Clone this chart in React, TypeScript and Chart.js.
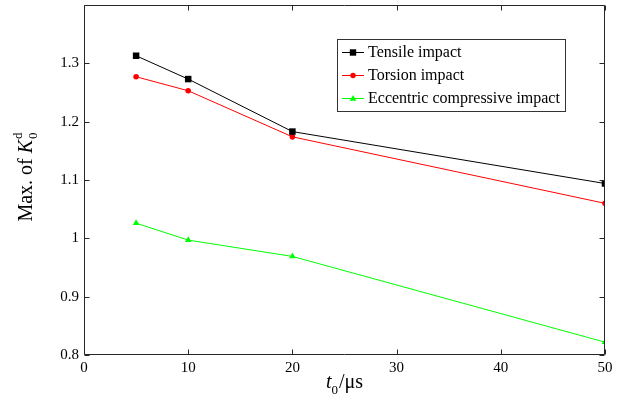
import React, { useEffect, useRef } from "react";
import { Chart, registerables } from "chart.js";

Chart.register(...registerables);

const times = [5, 10, 20, 50];
const tensile = [1.313, 1.273, 1.183, 1.094];
const torsion = [1.277, 1.253, 1.174, 1.06];
const eccentric = [1.026, 0.997, 0.969, 0.822];
const seriesNames = ["Tensile impact", "Torsion impact", "Eccentric compressive impact"];
const seriesColors = ["#000000", "#ff0000", "#00ff00"];
const seriesMarkers = ["rect", "circle", "triangle"];
const xTicks = [0, 10, 20, 30, 40, 50];
const yTickLabels = [0.8, 0.9, 1.0, 1.1, 1.2, 1.3];
const yTickMarks = [0.8, 0.9, 1.0, 1.1, 1.2, 1.3, 1.4];

const SERIF = "'Liberation Serif', 'Times New Roman', serif";

function drawMarker(ctx: CanvasRenderingContext2D, style: string, x: number, y: number, color: string) {
  ctx.save();
  ctx.fillStyle = color;
  ctx.beginPath();
  if (style === "rect") {
    ctx.rect(x - 3.2, y - 3.2, 6.4, 6.4);
  } else if (style === "circle") {
    ctx.arc(x, y, 2.7, 0, Math.PI * 2);
  } else {
    ctx.moveTo(x, y - 3.5);
    ctx.lineTo(x + 3.3, y + 2.2);
    ctx.lineTo(x - 3.3, y + 2.2);
    ctx.closePath();
  }
  ctx.fill();
  ctx.restore();
}

const framePlugin = {
  id: "framePlugin",
  afterDraw(chart: any) {
    const ctx: CanvasRenderingContext2D = chart.ctx;
    const { left, right, top, bottom } = chart.chartArea;
    const xs = chart.scales.x;
    const ys = chart.scales.y;
    const L = Math.round(left) + 0.5;
    const R = Math.round(right) - 0.5;
    const T = Math.round(top) + 0.5;
    const B = Math.round(bottom) - 0.5;
    ctx.save();
    ctx.strokeStyle = "#262626";
    ctx.lineWidth = 1;
    ctx.beginPath();
    ctx.rect(L, T, R - L, B - T);
    ctx.stroke();
    const tl = 5;
    ctx.beginPath();
    for (const v of xTicks) {
      const px = Math.round(xs.getPixelForValue(v)) + 0.5;
      ctx.moveTo(px, B);
      ctx.lineTo(px, B - tl);
      ctx.moveTo(px, T);
      ctx.lineTo(px, T + tl);
    }
    for (const v of yTickMarks) {
      const py = Math.round(ys.getPixelForValue(v)) + 0.5;
      ctx.moveTo(L, py);
      ctx.lineTo(L + tl, py);
      ctx.moveTo(R, py);
      ctx.lineTo(R - tl, py);
    }
    ctx.stroke();

    // Axis titles
    ctx.fillStyle = "#000";
    ctx.textBaseline = "alphabetic";
    ctx.textAlign = "left";
    const big = `20px ${SERIF}`;
    const bigI = `italic 20px ${SERIF}`;
    const small = `13px ${SERIF}`;

    // x title: t_0/μs
    ctx.font = bigI;
    const wt = ctx.measureText("t").width;
    ctx.font = small;
    const w0 = ctx.measureText("0").width;
    ctx.font = big;
    const wr = ctx.measureText("/μs").width;
    const total = wt + w0 + wr + 1;
    let cx = (left + right) / 2 - total / 2;
    const by = 388;
    ctx.font = bigI;
    ctx.fillText("t", cx, by);
    cx += wt;
    ctx.font = small;
    ctx.fillText("0", cx, by + 6);
    cx += w0 + 1;
    ctx.font = big;
    ctx.fillText("/μs", cx, by);

    // y title: Max. of K_0^d
    ctx.save();
    ctx.translate(32, (top + bottom) / 2 - 3);
    ctx.rotate(-Math.PI / 2);
    ctx.font = big;
    const wm = ctx.measureText("Max. of ").width;
    ctx.font = bigI;
    const wk = ctx.measureText("K").width;
    ctx.font = small;
    const ws = Math.max(ctx.measureText("0").width, ctx.measureText("d").width);
    const tot2 = wm + wk + ws + 1;
    let yx = -tot2 / 2;
    ctx.font = big;
    ctx.fillText("Max. of ", yx, 0);
    yx += wm;
    ctx.font = bigI;
    ctx.fillText("K", yx, 0);
    yx += wk + 1;
    ctx.font = small;
    ctx.fillText("0", yx, 5);
    ctx.fillText("d", yx, -10);
    ctx.restore();

    // Legend
    const bx = 337.5, byy = 39.5, bw = 228, bh = 72;
    ctx.fillStyle = "#ffffff";
    ctx.fillRect(bx, byy, bw, bh);
    ctx.strokeStyle = "#333333";
    ctx.strokeRect(bx, byy, bw, bh);
    ctx.font = `16px ${SERIF}`;
    ctx.textBaseline = "middle";
    for (let i = 0; i < seriesNames.length; i++) {
      const ry = 52 + i * 23;
      ctx.strokeStyle = seriesColors[i];
      ctx.beginPath();
      ctx.moveTo(342, ry + 0.5);
      ctx.lineTo(364, ry + 0.5);
      ctx.stroke();
      drawMarker(ctx, seriesMarkers[i], 353, ry + 0.5, seriesColors[i]);
      ctx.fillStyle = "#000";
      ctx.fillText(seriesNames[i], 368, ry + 1);
    }
    ctx.restore();
  },
};

export default function App() {
  const ref = useRef<HTMLCanvasElement | null>(null);
  useEffect(() => {
    if (!ref.current) return;
    const mk = (data: number[], i: number, r: number) => ({
      label: seriesNames[i],
      data: times.map((t, k) => ({ x: t, y: data[k] })),
      borderColor: seriesColors[i],
      backgroundColor: seriesColors[i],
      pointBackgroundColor: seriesColors[i],
      pointBorderColor: seriesColors[i],
      pointStyle: seriesMarkers[i] as any,
      pointRadius: r,
      pointBorderWidth: 0,
      borderWidth: 1,
      tension: 0,
      fill: false,
    });
    const chart = new Chart(ref.current, {
      type: "line",
      data: {
        datasets: [mk(tensile, 0, 4.6), mk(torsion, 1, 2.8), mk(eccentric, 2, 3.8)],
      },
      plugins: [framePlugin],
      options: {
        responsive: false,
        animation: false,
        devicePixelRatio: 1,
        layout: { padding: { left: 0, right: 17, top: 5, bottom: 0 } },
        plugins: { legend: { display: false }, tooltip: { enabled: false } },
        scales: {
          x: {
            type: "linear",
            min: 0,
            max: 50,
            afterBuildTicks: (s: any) => {
              s.ticks = xTicks.map((v) => ({ value: v }));
            },
            afterFit: (s: any) => {
              s.height = 46;
              s.paddingLeft = 0;
              s.paddingRight = 0;
            },
            grid: { display: false, drawTicks: false },
            border: { display: false },
            ticks: {
              padding: 4,
              color: "#000",
              font: { family: SERIF, size: 15 },
              maxRotation: 0,
              callback: (v: any) => String(v),
            },
          },
          y: {
            type: "linear",
            min: 0.8,
            max: 1.4,
            afterBuildTicks: (s: any) => {
              s.ticks = yTickLabels.map((v) => ({ value: v }));
            },
            afterFit: (s: any) => {
              s.width = 84;
              s.paddingTop = 0;
              s.paddingBottom = 0;
            },
            grid: { display: false, drawTicks: false },
            border: { display: false },
            ticks: {
              padding: 5,
              color: "#000",
              font: { family: SERIF, size: 15 },
              callback: (v: any) => String(Number(Number(v).toFixed(1))),
            },
          },
        },
      },
    });
    return () => chart.destroy();
  }, []);
  return (
    <div style={{ position: "fixed", left: 0, top: 0, width: 622, height: 401, background: "#fff" }}>
      <canvas ref={ref} width={622} height={401} style={{ width: 622, height: 401 }} />
    </div>
  );
}
